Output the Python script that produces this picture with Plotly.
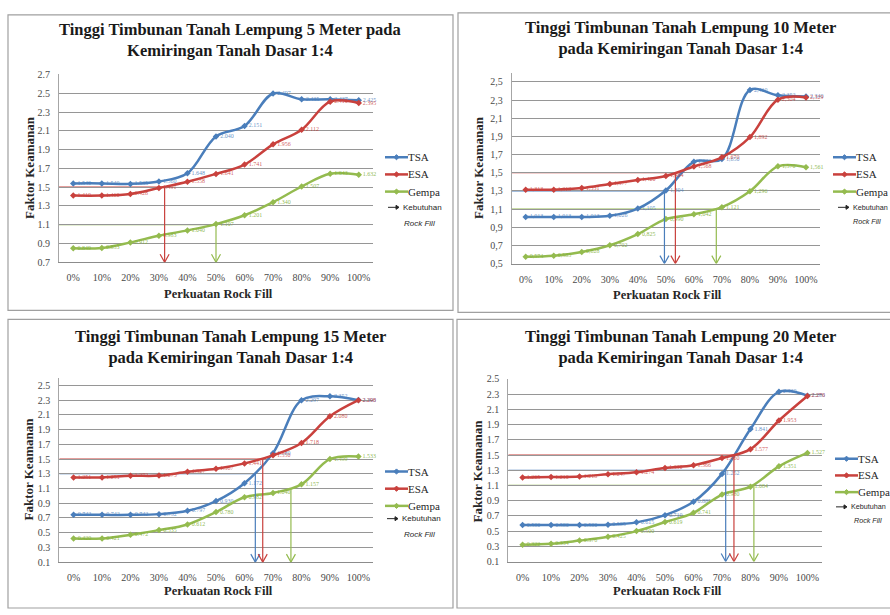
import plotly.graph_objects as go

# ---------------- data ----------------
categories = ["0%", "10%", "20%", "30%", "40%", "50%", "60%", "70%", "80%", "90%", "100%"]
series_names = ["TSA", "ESA", "Gempa"]

# 5 m
tsa_5 = [1.540, 1.540, 1.535, 1.560, 1.648, 2.040, 2.151, 2.497, 2.435, 2.437, 2.425]
esa_5 = [1.410, 1.410, 1.428, 1.491, 1.558, 1.641, 1.741, 1.956, 2.112, 2.410, 2.395]
gempa_5 = [0.849, 0.853, 0.912, 0.983, 1.040, 1.107, 1.201, 1.340, 1.507, 1.643, 1.632]
# 10 m
tsa_10 = [1.013, 1.013, 1.013, 1.026, 1.105, 1.304, 1.620, 1.650, 2.410, 2.352, 2.340]
esa_10 = [1.313, 1.313, 1.331, 1.377, 1.420, 1.464, 1.568, 1.670, 1.892, 2.304, 2.329]
gempa_10 = [0.574, 0.585, 0.628, 0.702, 0.825, 0.990, 1.042, 1.121, 1.296, 1.570, 1.561]
# 15 m
tsa_15 = [0.742, 0.742, 0.742, 0.752, 0.797, 0.930, 1.172, 1.580, 2.297, 2.352, 2.300]
esa_15 = [1.251, 1.251, 1.272, 1.275, 1.327, 1.367, 1.441, 1.550, 1.718, 2.080, 2.298]
gempa_15 = [0.420, 0.421, 0.472, 0.535, 0.612, 0.780, 0.982, 1.040, 1.157, 1.499, 1.533]
# 20 m
tsa_20 = [0.580, 0.580, 0.580, 0.585, 0.615, 0.710, 0.885, 1.252, 1.841, 2.330, 2.280]
esa_20 = [1.205, 1.210, 1.218, 1.247, 1.274, 1.330, 1.366, 1.460, 1.577, 1.953, 2.276]
gempa_20 = [0.322, 0.334, 0.376, 0.425, 0.500, 0.619, 0.741, 0.980, 1.084, 1.351, 1.527]

# required safety factor per series
threshold_values = [1.3, 1.5, 1.1]
# required rock fill (%) read at the arrows (None = no arrow)
kebutuhan_5 = [None, 32, 50]
kebutuhan_10 = [49.5, 53.4, 68]
kebutuhan_15 = [63.8, 66.4, 76.3]
kebutuhan_20 = [71.3, 74.2, 81.2]

titles = [
    "Tinggi Timbunan Tanah Lempung 5 Meter pada<br>Kemiringan Tanah Dasar 1:4",
    "Tinggi Timbunan Tanah Lempung 10 Meter<br>pada Kemiringan Tanah Dasar 1:4",
    "Tinggi Timbunan Tanah Lempung 15 Meter<br>pada Kemiringan Tanah Dasar 1:4",
    "Tinggi Timbunan Tanah Lempung 20 Meter<br>pada Kemiringan Tanah Dasar 1:4",
]
x_title = "Perkuatan Rock Fill"
y_title = "Faktor Keamanan"
note_line1 = "Kebutuhan"
note_line2 = "Rock Fill"

# ---------------- styling / layout ----------------
W, H = 890, 615
colors = ["#4a7ebb", "#c9413d", "#94bb4f"]
text_colors = ["rgba(74,126,187,0.85)", "rgba(201,65,61,0.85)", "rgba(130,175,60,0.9)"]
SERIF = "Liberation Serif, Times New Roman, serif"
SANS = "Liberation Sans, Arial, sans-serif"


def fx(x):
    return x / W


def fy(y):
    return 1 - y / H


panels = [
    dict(data=(tsa_5, esa_5, gempa_5), req=kebutuhan_5, yr=(0.7, 2.7), dec=".",
         box=(8, 10, 453, 311), plot=(59, 70.7, 373, 262),
         title=(230, 35.5), xt=(218, 294), yt=(29, 166),
         leg=(385, 155, 17.5), note=(388, 206, 402, 222, 8)),
    dict(data=(tsa_10, esa_10, gempa_10), req=kebutuhan_10, yr=(0.5, 2.6), dec=",",
         box=(458, 8, 900, 313), plot=(511.7, 69, 820, 263.3),
         title=(680, 33.5), xt=(667, 295), yt=(478, 166),
         leg=(833, 155, 17.5), note=(838, 206, 851, 220, 7.2)),
    dict(data=(tsa_15, esa_15, gempa_15), req=kebutuhan_15, yr=(0.1, 2.6), dec=".",
         box=(8, 320, 453, 614), plot=(59.3, 379.8, 372.7, 567.3),
         title=(230, 348.5), xt=(218, 597), yt=(29, 473),
         leg=(385, 475, 17.5), note=(387, 523, 402, 539, 8)),
    dict(data=(tsa_20, esa_20, gempa_20), req=kebutuhan_20, yr=(0.1, 2.5), dec=".",
         box=(457, 320, 900, 614), plot=(508.3, 380.7, 821.7, 566.7),
         title=(680, 348.5), xt=(667, 597), yt=(478, 475),
         leg=(835, 462, 17), note=(836, 511, 852, 525, 7.2)),
]

fig = go.Figure()
shapes = []
annotations = []
xvals = list(range(len(categories)))

for i, p in enumerate(panels):
    n = i + 1
    xa = "x" if n == 1 else f"x{n}"
    ya = "y" if n == 1 else f"y{n}"
    for s, (name, vals) in enumerate(zip(series_names, p["data"])):
        labels = [f"{v:.3f}".replace(".", p["dec"]) for v in vals]
        fig.add_trace(go.Scatter(
            x=xvals, y=vals, name=name, mode="lines+markers+text",
            text=labels, textposition="middle right",
            textfont=dict(size=6, color=text_colors[s], family=SERIF),
            line=dict(color=colors[s], width=2.5, shape="spline", smoothing=1.0),
            marker=dict(symbol="diamond", size=5, color=colors[s]),
            xaxis=xa, yaxis=ya, cliponaxis=False, showlegend=False,
        ))
    # thresholds and arrows
    ymin = p["yr"][0]
    for s, (thr, req) in enumerate(zip(threshold_values, p["req"])):
        if req is None:
            continue
        xr = req / 10.0
        shapes.append(dict(type="line", xref=xa, yref=ya, x0=-0.5, x1=xr, y0=thr, y1=thr,
                           line=dict(color=colors[s], width=1.2), layer="below"))
        shapes.append(dict(type="line", xref=xa, yref=ya, x0=xr, x1=xr, y0=thr, y1=ymin,
                           line=dict(color=colors[s], width=1.2)))
        shapes.append(dict(type="path", xref=xa, yref=ya, xsizemode="pixel", ysizemode="pixel",
                           xanchor=xr, yanchor=ymin, path="M -4.5,8 L 0,0 L 4.5,8",
                           line=dict(color=colors[s], width=1.2)))
    # axes
    x0, y0, x1, y1 = p["plot"]
    ymax = p["yr"][1]
    ticks = []
    v = ymin
    while v <= ymax + 1e-9:
        ticks.append(round(v, 1))
        v += 0.2
    ticktext = [f"{t:.1f}".replace(".", p["dec"]) for t in ticks]
    fig.update_layout(**{
        ("xaxis" if n == 1 else f"xaxis{n}"): dict(
            domain=[fx(x0), fx(x1)], anchor=ya, range=[-0.5, 10.5],
            tickvals=xvals, ticktext=categories, showgrid=False, zeroline=False,
            showline=True, linecolor="#8c8c8c", linewidth=1.2, ticks="",
            ticklabelstandoff=6,
            tickfont=dict(family=SERIF, size=10, color="#4a4a4a"), fixedrange=True),
        ("yaxis" if n == 1 else f"yaxis{n}"): dict(
            domain=[fy(y1), fy(y0)], anchor=xa, range=[ymin, ymax],
            tickvals=ticks, ticktext=ticktext, showgrid=True, gridcolor="#969696",
            gridwidth=1.2, zeroline=False, showline=True, linecolor="#a6a6a6",
            linewidth=1, ticks="", ticklabelstandoff=6,
            tickfont=dict(family=SERIF, size=10, color="#4a4a4a"), fixedrange=True),
    })
    # panel border
    bx0, by0, bx1, by1 = p["box"]
    shapes.append(dict(type="rect", xref="paper", yref="paper", x0=fx(bx0), x1=fx(bx1),
                       y0=fy(by1), y1=fy(by0), line=dict(color="#a0a0a0", width=1.2)))
    # titles
    annotations.append(dict(xref="paper", yref="paper", x=fx(p["title"][0]), y=fy(p["title"][1]),
                            text=f"<b>{titles[i]}</b>", showarrow=False, xanchor="center",
                            yanchor="middle", font=dict(family=SERIF, size=16.5, color="#1a1a1a")))
    annotations.append(dict(xref="paper", yref="paper", x=fx(p["xt"][0]), y=fy(p["xt"][1]),
                            text=f"<b>{x_title}</b>", showarrow=False, xanchor="center",
                            yanchor="middle", font=dict(family=SERIF, size=12.5, color="#262626")))
    annotations.append(dict(xref="paper", yref="paper", x=fx(p["yt"][0]), y=fy(p["yt"][1]),
                            text=f"<b>{y_title}</b>", showarrow=False, xanchor="center",
                            yanchor="middle", textangle=-90,
                            font=dict(family=SERIF, size=13, color="#262626")))
    # legend (drawn manually)
    lx, ly, gap = p["leg"]
    for s, name in enumerate(series_names):
        yy = ly + s * gap
        shapes.append(dict(type="line", xref="paper", yref="paper", x0=fx(lx), x1=fx(lx + 23),
                           y0=fy(yy), y1=fy(yy), line=dict(color=colors[s], width=2.5)))
        shapes.append(dict(type="path", xref="paper", yref="paper", xsizemode="pixel",
                           ysizemode="pixel", xanchor=fx(lx + 11.5), yanchor=fy(yy),
                           path="M -2.6,0 L 0,2.6 L 2.6,0 L 0,-2.6 Z",
                           fillcolor=colors[s], line=dict(color=colors[s], width=1)))
        annotations.append(dict(xref="paper", yref="paper", x=fx(lx + 23), y=fy(yy),
                                text=name, showarrow=False, xanchor="left", yanchor="middle",
                                xshift=-2, font=dict(family=SERIF, size=11, color="#262626")))
    # Kebutuhan Rock Fill note
    ax_, ay_, rx_, ry_, nfs = p["note"]
    shapes.append(dict(type="line", xref="paper", yref="paper", x0=fx(ax_), x1=fx(ax_ + 10),
                       y0=fy(ay_), y1=fy(ay_), line=dict(color="#262626", width=1)))
    shapes.append(dict(type="path", xref="paper", yref="paper", xsizemode="pixel",
                       ysizemode="pixel", xanchor=fx(ax_ + 11), yanchor=fy(ay_),
                       path="M -3,2 L 0,0 L -3,-2 Z", fillcolor="#262626",
                       line=dict(color="#262626", width=1)))
    annotations.append(dict(xref="paper", yref="paper", x=fx(ax_ + 13), y=fy(ay_),
                            text=note_line1, showarrow=False, xanchor="left", yanchor="middle",
                            font=dict(family=SANS, size=nfs, color="#262626")))
    annotations.append(dict(xref="paper", yref="paper", x=fx(rx_), y=fy(ry_),
                            text=f"<i>{note_line2}</i>", showarrow=False, xanchor="left",
                            yanchor="middle", font=dict(family=SANS, size=nfs, color="#262626")))

fig.update_layout(
    width=W, height=H, margin=dict(l=0, r=0, t=0, b=0),
    paper_bgcolor="white", plot_bgcolor="white",
    shapes=shapes, annotations=annotations, showlegend=False,
)

fig.write_html("out.html", config={"displayModeBar": False},
               post_script="document.body.style.margin='0';document.body.style.overflow='hidden';")
